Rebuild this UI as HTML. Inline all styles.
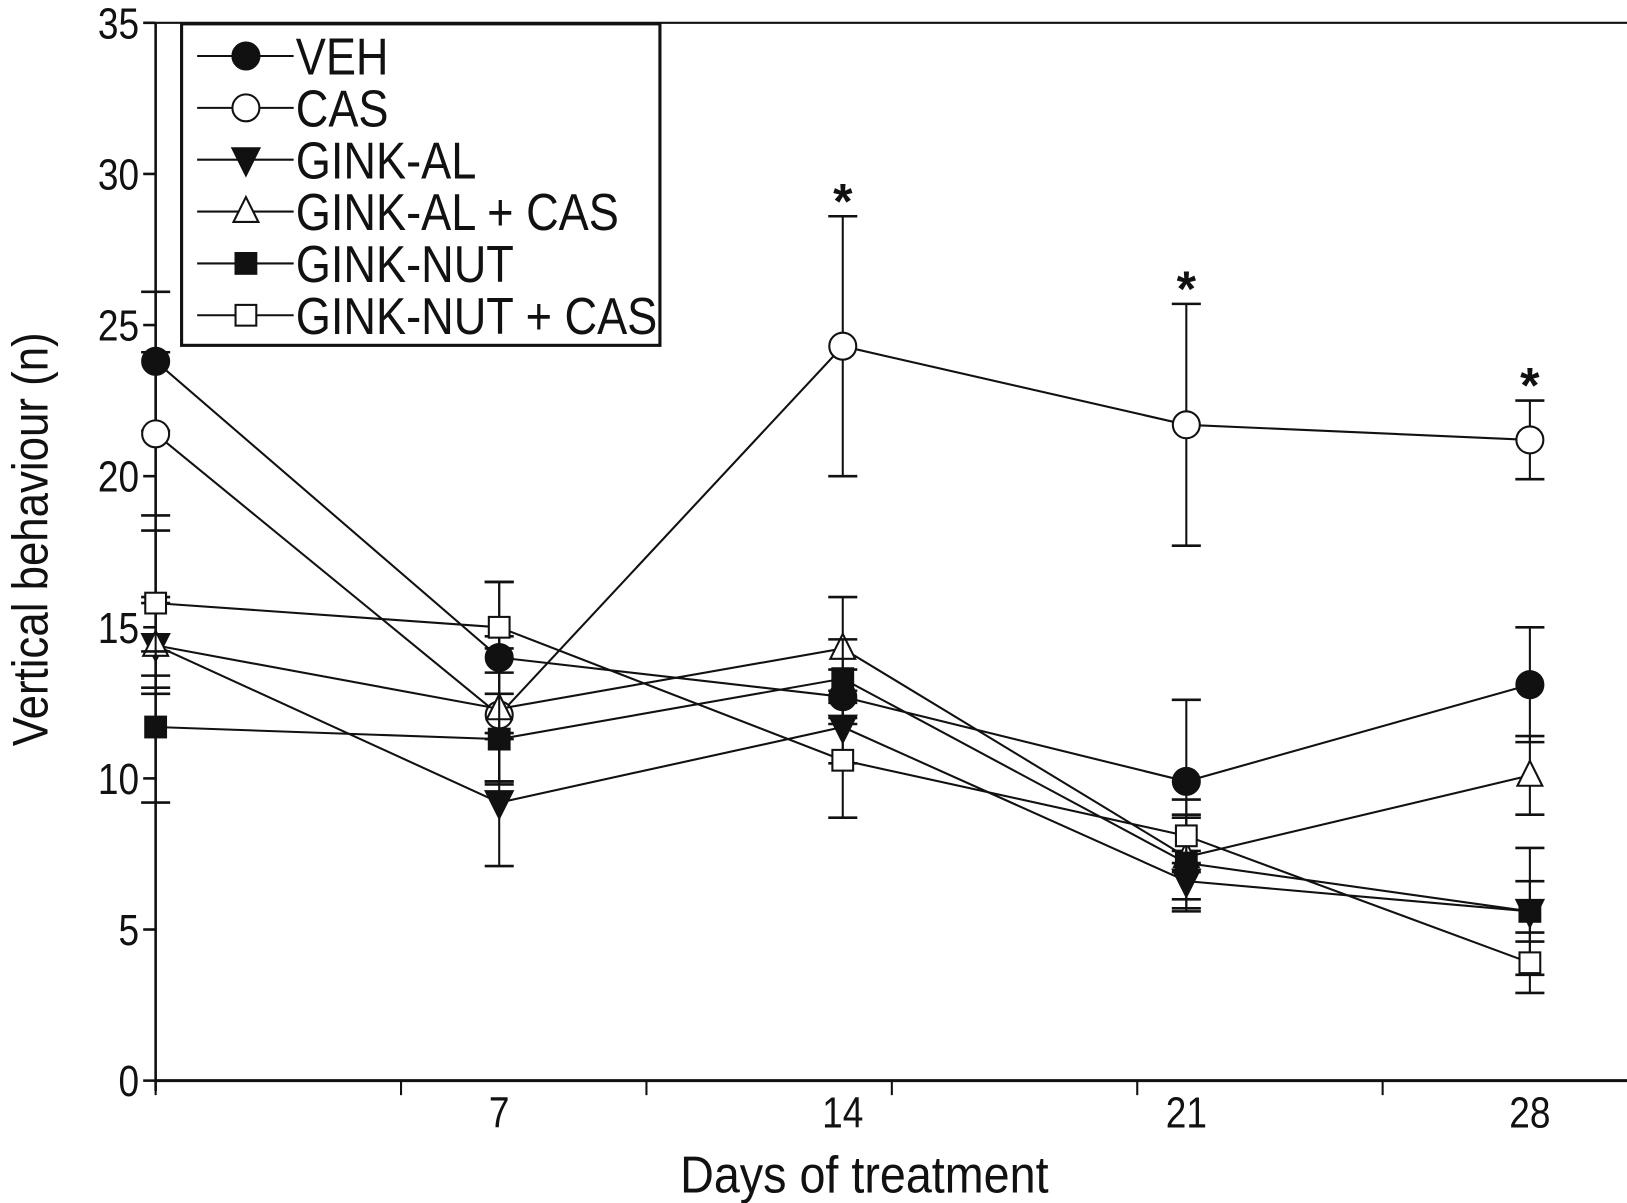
<!DOCTYPE html>
<html><head><meta charset="utf-8"><style>
html,body{margin:0;padding:0;background:#fff;}
svg{display:block;font-family:"Liberation Sans",Arial,sans-serif;}
</style></head><body>
<svg id="chart" width="1627" height="1203" viewBox="0 0 1568 1160" preserveAspectRatio="none" xmlns="http://www.w3.org/2000/svg">
<rect width="1568" height="1160" fill="#fff"/>
<g id="axes"></g>
<g id="series"></g>
<g id="legend"></g>
<text x="0" y="0" transform="translate(46,520) rotate(-90) scale(0.88,1)" text-anchor="middle" font-size="48" fill="#111">Vertical behaviour (n)</text>
<text x="0" y="0" transform="translate(833,1150) scale(0.9,1)" text-anchor="middle" font-size="50" fill="#111">Days of treatment</text>
</svg>
<script>
const days = [0, 7, 14, 21, 28];
const yTicks = [0, 5, 10, 15, 20, 25, 30, 35];
const xTickLabels = ["7", "14", "21", "28"];
const seriesNames = ["VEH", "CAS", "GINK-AL", "GINK-AL + CAS", "GINK-NUT", "GINK-NUT + CAS"];
const vehValues = [23.8, 14.0, 12.7, 9.9, 13.1];
const vehErr = [2.3, 2.5, 0.9, 2.7, 1.9];
const casValues = [21.4, 12.1, 24.3, 21.7, 21.2];
const casErr = [2.7, 2.2, 4.3, 4.0, 1.3];
const ginkAlValues = [14.4, 9.2, 11.7, 6.6, 5.6];
const ginkAlErr = [1.6, 2.1, 1.2, 1.0, 1.0];
const ginkAlCasValues = [14.4, 12.3, 14.3, 7.4, 10.1];
const ginkAlCasErr = [1.4, 2.4, 1.7, 1.4, 1.3];
const ginkNutValues = [11.7, 11.3, 13.3, 7.2, 5.6];
const ginkNutErr = [2.5, 1.5, 1.3, 1.5, 2.1];
const ginkNutCasValues = [15.8, 15.0, 10.6, 8.1, 3.9];
const ginkNutCasErr = [2.4, 1.5, 1.9, 1.2, 1.0];
const significantDays = [14, 21, 28];

const NS = "http://www.w3.org/2000/svg";
const X0 = 150, XPD = 47.3, Y0 = 1042, YPU = 1020/35;
const xs = d => X0 + d*XPD;
const ys = v => Y0 - v*YPU;
function mk(tag, attrs, parent){const e=document.createElementNS(NS,tag);for(const k in attrs)e.setAttribute(k,attrs[k]);parent.appendChild(e);return e;}
const axes=document.getElementById('axes');
const sg=document.getElementById('series');
const lg=document.getElementById('legend');

let a=mk('line',{x1:X0,y1:ys(35),x2:X0,y2:Y0+10,stroke:'#111','stroke-width':2.5},axes);


a=mk('line',{x1:X0,y1:Y0,x2:1568,y2:Y0,stroke:'#111','stroke-width':3},axes);


a=mk('line',{x1:X0,y1:ys(35),x2:1568,y2:ys(35),stroke:'#111','stroke-width':2},axes);


yTicks.forEach(v=>{
  mk('line',{x1:X0-12,y1:ys(v),x2:X0,y2:ys(v),stroke:'#111','stroke-width':2.5},axes);
  const t=mk('text',{x:0,y:0,transform:`translate(${X0-16},${ys(v)+15}) scale(0.85,1)`,'text-anchor':'end','font-size':42,fill:'#111'},axes);
  t.textContent=v;
  
  
});
for(let d=0; d<=30; d+=5){
  mk('line',{x1:xs(d),y1:Y0,x2:xs(d),y2:Y0+14,stroke:'#111','stroke-width':2},axes);
}
xTickLabels.forEach((lab,i)=>{
  const t=mk('text',{x:0,y:0,transform:`translate(${xs(days[i+1])},${1087}) scale(0.85,1)`,'text-anchor':'middle','font-size':42,fill:'#111'},axes);
  t.textContent=lab;
  
  
});

function marker(type,cx,cy,parent,s){
  s=s||1;
  if(type==='fc')return mk('circle',{cx,cy,r:13*s,fill:'#111',stroke:'#111','stroke-width':2},parent);
  if(type==='oc')return mk('circle',{cx,cy,r:13*s,fill:'#fff',stroke:'#111','stroke-width':2},parent);
  if(type==='ft')return mk('polygon',{points:`${cx-13*s},${cy-11*s} ${cx+13*s},${cy-11*s} ${cx},${cy+15*s}`,fill:'#111',stroke:'#111','stroke-width':2},parent);
  if(type==='ot')return mk('polygon',{points:`${cx-12*s},${cy+10*s} ${cx+12*s},${cy+10*s} ${cx},${cy-14*s}`,fill:'#fff',stroke:'#111','stroke-width':2},parent);
  if(type==='fs')return mk('rect',{x:cx-10*s,y:cy-10*s,width:20*s,height:20*s,fill:'#111',stroke:'#111','stroke-width':2},parent);
  return mk('rect',{x:cx-10*s,y:cy-10*s,width:20*s,height:20*s,fill:'#fff',stroke:'#111','stroke-width':2},parent);
}
const allSeries=[
  [vehValues,vehErr,'fc','veh'],[casValues,casErr,'oc','cas'],[ginkAlValues,ginkAlErr,'ft','gink-al'],
  [ginkAlCasValues,ginkAlCasErr,'ot','gink-al-cas'],[ginkNutValues,ginkNutErr,'fs','gink-nut'],[ginkNutCasValues,ginkNutCasErr,'os','gink-nut-cas']];
allSeries.forEach(([vals,errs,mt,nm])=>{
  const g=mk('g',{},sg);
  
  
  vals.forEach((v,i)=>{
    const x=xs(days[i]);
    mk('line',{x1:x,y1:ys(v-errs[i]),x2:x,y2:ys(v+errs[i]),stroke:'#111','stroke-width':2},g);
    [v-errs[i],v+errs[i]].forEach(e=>mk('line',{x1:x-14,y1:ys(e),x2:x+14,y2:ys(e),stroke:'#111','stroke-width':2.5},g));
  });
  const pl=mk('polyline',{points:vals.map((v,i)=>xs(days[i])+','+ys(v)).join(' '),fill:'none',stroke:'#111','stroke-width':2},g);
  
  
  vals.forEach((v,i)=>{
    const m=marker(mt,xs(days[i]),ys(v),g);
    
    
  });
});
significantDays.forEach(d=>{
  const i=days.indexOf(d);
  const t=mk('text',{x:xs(d),y:ys(casValues[i]+casErr[i])+2,'text-anchor':'middle','font-size':48,'font-weight':'bold',fill:'#111'},sg);
  t.textContent='*';
  
  
});

mk('rect',{x:175,y:23,width:461,height:310,fill:'#fff',stroke:'#111','stroke-width':3},lg);
const mtypes=['fc','oc','ft','ot','fs','os'];
seriesNames.forEach((n,i)=>{
  const y=54+i*50;
  const g=mk('g',{},lg);
  
  
  mk('line',{x1:190,y1:y,x2:283,y2:y,stroke:'#111','stroke-width':2},g);
  marker(mtypes[i],237,y,g,1.0);
  const t=mk('text',{x:0,y:0,transform:`translate(285,${y+18}) scale(0.87,1)`,'font-size':50,fill:'#111'},g);
  t.textContent=n;
});
</script>
</body></html>
